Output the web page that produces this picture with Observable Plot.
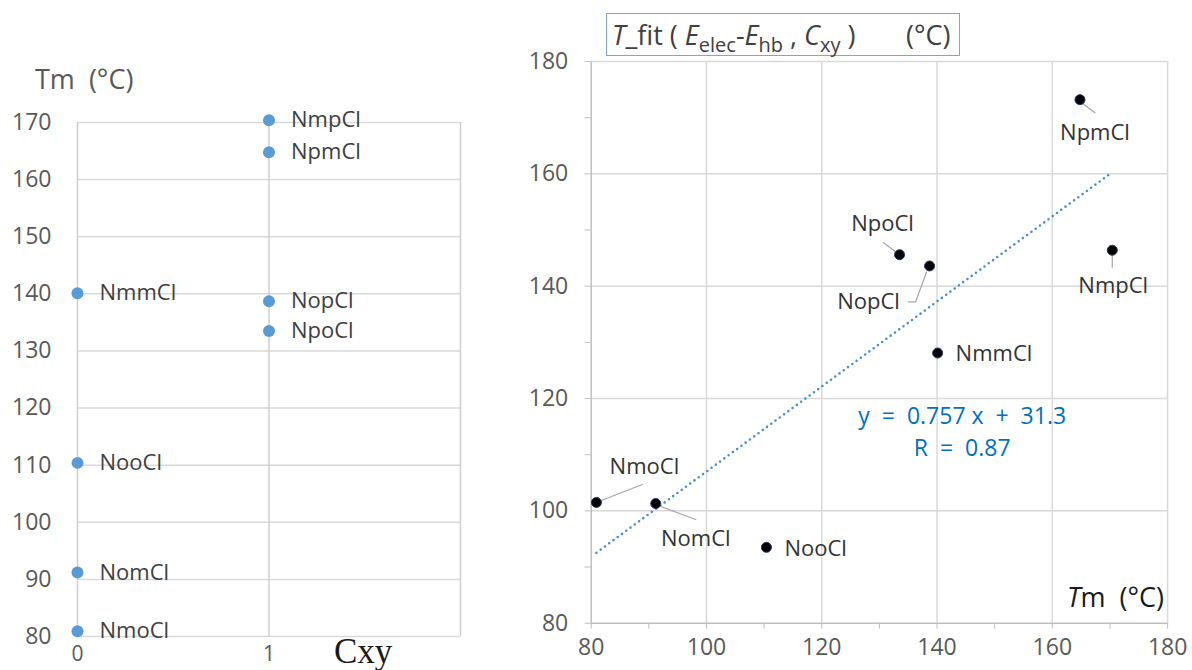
<!DOCTYPE html>
<html><head><meta charset="utf-8">
<script src="https://cdn.jsdelivr.net/npm/d3@7"></script>
<script src="https://cdn.jsdelivr.net/npm/@observablehq/plot@0.6"></script>
<style>
body{margin:0;background:#fff;}
#wrap{position:relative;width:1192px;height:670px;overflow:hidden;font-family:"Open Sans",sans-serif;}
#left,#right{position:absolute;top:0;}
#left{left:0;}
#right{left:520px;}
svg text{white-space:pre;}
.ov{position:absolute;white-space:pre;line-height:1;}
#ltitle{left:35px;top:65px;font-size:27px;color:#595959;}
#cxy{left:334px;top:634px;font-family:"Liberation Serif","Times New Roman",serif;font-size:35px;color:#1a1a1a;}
#rbox{left:606px;top:13px;width:354px;height:43px;border:1.5px solid #7ea6cf;box-sizing:border-box;}
#rtitle{left:612px;top:21px;font-size:27px;color:#404040;}
#rtitle sub{font-size:20px;vertical-align:-7px;line-height:0;}
#runit{left:906px;top:21px;font-size:27px;color:#404040;}
#rxlab{right:28px;top:583px;font-size:27px;color:#1a1a1a;}
</style></head><body>
<div id="wrap">
  <div id="left"></div>
  <div id="right"></div>
  <div class="ov" id="ltitle">Tm  (°C)</div>
  <div class="ov" id="cxy">Cxy</div>
  <div class="ov" id="rbox"></div>
  <div class="ov" id="rtitle"><i>T</i>_fit ( <i>E</i><sub>elec</sub>-<i>E</i><sub>hb</sub> , <i>C</i><sub>xy</sub> )</div>
  <div class="ov" id="runit">(°C)</div>
  <div class="ov" id="rxlab"><i>T</i>m  (°C)</div>
</div>
<script>
// ---- data ----
const compounds = ["NmpCl","NpmCl","NmmCl","NopCl","NpoCl","NooCl","NomCl","NmoCl"];
const cxy      = [1, 1, 0, 1, 1, 0, 0, 0];
const tm       = [170.4, 164.8, 140.1, 138.7, 133.5, 110.4, 91.2, 80.9];
const tfit     = [146.4, 173.2, 128.1, 143.6, 145.6, 93.5, 101.3, 101.5];
const fitSlope = 0.757;
const fitIntercept = 31.3;
const fitR = 0.87;
const leftYTicks = [80, 90, 100, 110, 120, 130, 140, 150, 160, 170];
const leftXTicks = [0, 1];
const leftXGrid = [0, 1, 2];
const rightMajor = [80, 100, 120, 140, 160, 180];
const rightAll = [80, 90, 100, 110, 120, 130, 140, 150, 160, 170, 180];

const data = compounds.map((name, i) => ({name, cxy: cxy[i], tm: tm[i], tfit: tfit[i]}));

// ---- layout for right-panel labels (pixel offsets from each dot) ----
const labelLayout = {
  NpmCl: {dx: 15, dy: 33, anchor: "middle", lead: [[3, 4], [15, 13]]},
  NpoCl: {dx: -17, dy: -31, anchor: "middle", lead: [[-16, -12], [-4, -3]]},
  NopCl: {dx: -61, dy: 36, anchor: "middle", lead: [[-21, 36], [-14, 36], [-3, 6]]},
  NmpCl: {dx: 1, dy: 36, anchor: "middle", lead: [[0, 5], [0, 17]]},
  NmmCl: {dx: 18, dy: 1, anchor: "start"},
  NmoCl: {dx: 48, dy: -35, anchor: "middle", lead: [[5, -2], [46, -18]]},
  NomCl: {dx: 40, dy: 35, anchor: "middle", lead: [[5, 3], [40, 16]]},
  NooCl: {dx: 18, dy: 2, anchor: "start"}
};

const grid = {stroke: "#d9d9d9", strokeOpacity: 1, strokeWidth: 1.5};

// ---- left chart ----
const left = Plot.plot({
  width: 520, height: 670,
  marginLeft: 77, marginRight: 60, marginTop: 122, marginBottom: 34,
  x: {domain: [0, 2]},
  y: {domain: [80, 170]},
  style: {fontFamily: "Open Sans", fontSize: "23px", color: "#595959", background: "transparent", overflow: "visible"},
  marks: [
    Plot.gridY(leftYTicks, grid),
    Plot.gridX(leftXGrid, {...grid, stroke: "#cfcfcf"}),
    Plot.axisY(leftYTicks, {tickSize: 0, tickPadding: 26, label: null}),
    Plot.axisX(leftXTicks, {tickSize: 0, tickPadding: 10, fontSize: 21, tickFormat: "d", label: null}),
    Plot.dot(data, {x: "cxy", y: "tm", r: 6, fill: "#5b9bd5"}),
    Plot.text(data, {x: "cxy", y: "tm", text: "name", dx: 22, textAnchor: "start", fill: "#404040", fontSize: 22})
  ]
});
document.getElementById("left").append(left);

// ---- right chart ----
const W = 672, H = 670, mL = 70.7, mR = 24.9, mT = 61, mB = 47.3;
const xd = [80, 180], yd = [80, 180];
const kx = (W - mL - mR) / (xd[1] - xd[0]);
const ky = (H - mT - mB) / (yd[1] - yd[0]);

const labels = data.map(d => {
  const L = labelLayout[d.name];
  return {name: d.name, anchor: L.anchor, x: d.tm + L.dx / kx, y: d.tfit - L.dy / ky};
});
const leads = [];
data.forEach(d => {
  const L = labelLayout[d.name];
  if (L.lead) L.lead.forEach(([px, py]) => leads.push({name: d.name, x: d.tm + px / kx, y: d.tfit - py / ky}));
});
const xMin = d3.min(tm), xMax = d3.max(tm);
const trend = [xMin, xMax].map(x => ({x, y: fitSlope * x + fitIntercept}));

const right = Plot.plot({
  width: W, height: H,
  marginLeft: mL, marginRight: mR, marginTop: mT, marginBottom: mB,
  x: {domain: xd},
  y: {domain: yd},
  style: {fontFamily: "Open Sans", fontSize: "23px", color: "#595959", background: "transparent", overflow: "visible"},
  marks: [
    Plot.gridX(rightMajor.slice(1), grid),
    Plot.gridY(rightMajor.slice(1), grid),
    Plot.ruleX([xd[0]], {stroke: "#bfbfbf", strokeWidth: 1.5}),
    Plot.ruleY([yd[0]], {stroke: "#bfbfbf", strokeWidth: 1.5}),
    Plot.axisY(rightAll, {tickSize: 6, tickPadding: 17, stroke: "#bfbfbf", tickFormat: d => d % 20 === 0 ? d : "", label: null}),
    Plot.axisX(rightAll, {tickSize: 6, tickPadding: 9, stroke: "#bfbfbf", tickFormat: d => d % 20 === 0 ? d : "", label: null}),
    Plot.line(trend, {x: "x", y: "y", stroke: "#4a8fd0", strokeWidth: 2.6, strokeDasharray: "0,5.3", strokeLinecap: "round"}),
    Plot.line(leads, {x: "x", y: "y", z: "name", stroke: "#a6a6a6", strokeWidth: 1.2}),
    Plot.dot(data, {x: "tm", y: "tfit", r: 5, fill: "#000", stroke: "#1f3864", strokeWidth: 1}),
    Plot.text(labels.filter(d => d.anchor === "middle"), {x: "x", y: "y", text: "name", textAnchor: "middle", fill: "#333", fontSize: 22}),
    Plot.text(labels.filter(d => d.anchor === "start"), {x: "x", y: "y", text: "name", textAnchor: "start", fill: "#333", fontSize: 22}),
    Plot.text([`y  =  ${fitSlope} x  +  ${fitIntercept}`], {frameAnchor: "top-left", dx: 371, dy: 346, textAnchor: "middle", fill: "#0070c0", fontSize: 23}),
    Plot.text([`R  =  ${fitR}`], {frameAnchor: "top-left", dx: 371, dy: 378, textAnchor: "middle", fill: "#0070c0", fontSize: 23})
  ]
});
document.getElementById("right").append(right);
</script>
</body></html>
